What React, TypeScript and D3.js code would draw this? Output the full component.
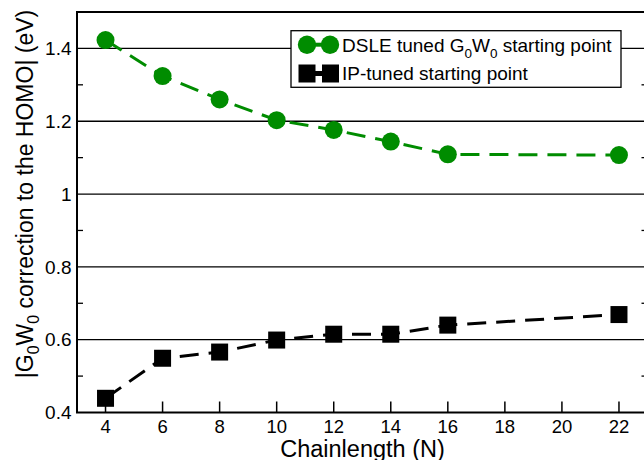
import React, { useEffect, useRef } from 'react';
import * as d3 from 'd3';

const chainLengths = [4, 6, 8, 10, 12, 14, 16, 22];
const dsleValues = [1.423, 1.324, 1.26, 1.203, 1.176, 1.144, 1.109, 1.107];
const ipValues = [0.439, 0.549, 0.566, 0.599, 0.615, 0.615, 0.64, 0.669];
const xTicks = [4, 6, 8, 10, 12, 14, 16, 18, 20, 22];
const yTicks = [0.4, 0.6, 0.8, 1.0, 1.2, 1.4];
const yMinor = [0.5, 0.7, 0.9, 1.1, 1.3];
const seriesNames = ['DSLE tuned G0W0 starting point', 'IP-tuned starting point'];

const GREEN = '#008c00';
const FONT = '"Liberation Sans", Arial, Helvetica, sans-serif';

const App = () => {
    const svgRef = useRef<SVGSVGElement>(null);

    useEffect(() => {
        const svg = d3.select(svgRef.current);
        svg.selectAll('*').remove();

        const left = 77, right = 647.5, top = 12, bottom = 412.5;

        const x = d3.scaleLinear().domain([3, 23]).range([left, right]);
        const y = d3.scaleLinear().domain([0.4, 1.5]).range([bottom, top]);

        // grid lines at major y ticks
        svg.append('g')
            .selectAll('line')
            .data(yTicks.slice(1))
            .enter()
            .append('line')
            .attr('x1', left).attr('x2', right)
            .attr('y1', d => y(d)).attr('y2', d => y(d))
            .attr('stroke', '#000').attr('stroke-width', 1.3);

        // frame
        svg.append('rect')
            .attr('x', left).attr('y', top)
            .attr('width', right - left).attr('height', bottom - top)
            .attr('fill', 'none').attr('stroke', '#000').attr('stroke-width', 2);

        // x ticks (inward)
        svg.append('g')
            .selectAll('line')
            .data(xTicks)
            .enter()
            .append('line')
            .attr('x1', d => x(d)).attr('x2', d => x(d))
            .attr('y1', bottom).attr('y2', bottom - 11)
            .attr('stroke', '#000').attr('stroke-width', 1.5);

        svg.append('g')
            .selectAll('text')
            .data(xTicks)
            .enter()
            .append('text')
            .attr('x', d => x(d)).attr('y', 433)
            .attr('text-anchor', 'middle')
            .style('font-family', FONT).style('font-size', '18.5px')
            .text(d => d);

        // y minor ticks on both sides
        [left, right].forEach((ax) => {
            const dir = ax === left ? 1 : -1;
            svg.append('g')
                .selectAll('line')
                .data(yMinor)
                .enter()
                .append('line')
                .attr('x1', ax).attr('x2', ax + dir * 6)
                .attr('y1', d => y(d)).attr('y2', d => y(d))
                .attr('stroke', '#000').attr('stroke-width', 1.3);
        });

        svg.append('g')
            .selectAll('text')
            .data(yTicks)
            .enter()
            .append('text')
            .attr('x', 71.5).attr('y', d => y(d) + 6.8)
            .attr('text-anchor', 'end')
            .style('font-family', FONT).style('font-size', '19px')
            .text(d => d === 1 ? '1' : d.toFixed(1));

        // axis titles
        svg.append('text')
            .attr('x', 362.5).attr('y', 456.5)
            .attr('text-anchor', 'middle')
            .style('font-family', FONT).style('font-size', '23.5px')
            .text('Chainlength (N)');

        const yl = svg.append('text')
            .attr('transform', 'translate(33,194) rotate(-90)')
            .attr('text-anchor', 'middle')
            .style('font-family', FONT).style('font-size', '23px');
        yl.append('tspan').text('|G');
        yl.append('tspan').attr('dy', 6).style('font-size', '16px').text('0');
        yl.append('tspan').attr('dy', -6).text('W');
        yl.append('tspan').attr('dy', 6).style('font-size', '16px').text('0');
        yl.append('tspan').attr('dy', -6).text(' correction to the HOMO| (eV)');

        const line = d3.line<number>()
            .x((_, i) => x(chainLengths[i]))
            .y(d => y(d));

        svg.append('path')
            .datum(dsleValues)
            .attr('d', line)
            .attr('fill', 'none').attr('stroke', GREEN)
            .attr('stroke-width', 3).attr('stroke-dasharray', '19,10');

        svg.append('path')
            .datum(ipValues)
            .attr('d', line)
            .attr('fill', 'none').attr('stroke', '#000')
            .attr('stroke-width', 3).attr('stroke-dasharray', '19,10');

        svg.append('g')
            .selectAll('circle')
            .data(dsleValues)
            .enter()
            .append('circle')
            .attr('cx', (_, i) => x(chainLengths[i]))
            .attr('cy', d => y(d))
            .attr('r', 9)
            .attr('fill', GREEN);

        const sq = 17;
        svg.append('g')
            .selectAll('rect')
            .data(ipValues)
            .enter()
            .append('rect')
            .attr('x', (_, i) => x(chainLengths[i]) - sq / 2)
            .attr('y', d => y(d) - sq / 2)
            .attr('width', sq).attr('height', sq)
            .attr('fill', '#000');

        // legend
        const lg = svg.append('g');
        lg.append('rect')
            .attr('x', 291).attr('y', 30.7)
            .attr('width', 330).attr('height', 56.6)
            .attr('fill', '#fff').attr('stroke', '#000').attr('stroke-width', 1.3);

        const row1 = 44.7, row2 = 73.5;
        lg.append('line')
            .attr('x1', 307).attr('x2', 330).attr('y1', row1).attr('y2', row1)
            .attr('stroke', GREEN).attr('stroke-width', 4);
        [307, 330].forEach(cx => lg.append('circle')
            .attr('cx', cx).attr('cy', row1).attr('r', 9.2).attr('fill', GREEN));

        lg.append('line')
            .attr('x1', 307).attr('x2', 330).attr('y1', row2).attr('y2', row2)
            .attr('stroke', '#000').attr('stroke-width', 5);
        [307.5, 331].forEach(cx => lg.append('rect')
            .attr('x', cx - 9).attr('y', row2 - 9)
            .attr('width', 17).attr('height', 18).attr('fill', '#000'));

        const t1 = lg.append('text')
            .attr('x', 342).attr('y', row1 + 7)
            .style('font-family', FONT).style('font-size', '19px');
        const [pre, post] = seriesNames[0].split('G0W0');
        t1.append('tspan').text(pre + 'G');
        t1.append('tspan').attr('dy', 6).style('font-size', '13.5px').text('0');
        t1.append('tspan').attr('dy', -6).text('W');
        t1.append('tspan').attr('dy', 6).style('font-size', '13.5px').text('0');
        t1.append('tspan').attr('dy', -6).text(post);

        lg.append('text')
            .attr('x', 342).attr('y', row2 + 6.5)
            .style('font-family', FONT).style('font-size', '19px')
            .text(seriesNames[1]);
    }, []);

    return (
        <svg
            ref={svgRef}
            width={644}
            height={460}
            style={{ position: 'absolute', left: 0, top: 0, background: '#fff' }}
        />
    );
};

export default App;
